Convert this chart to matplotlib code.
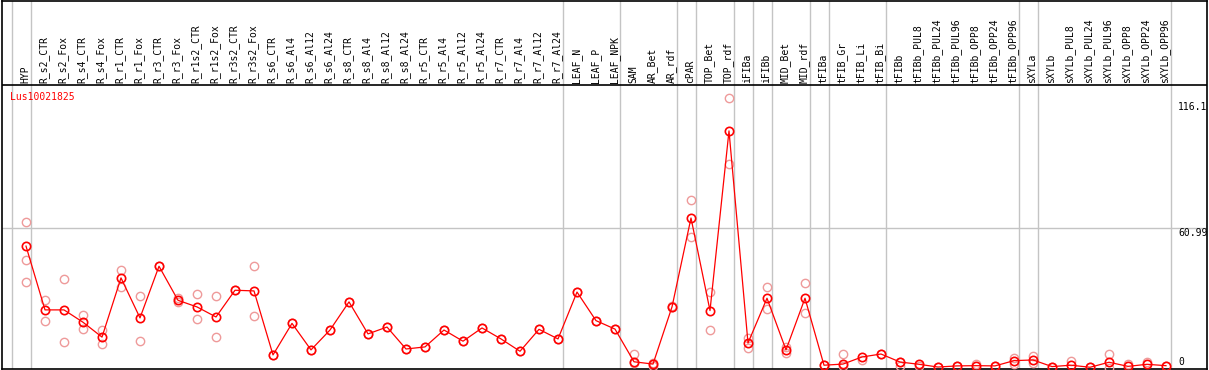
import matplotlib
matplotlib.use("Agg")
import matplotlib.pyplot as plt
import numpy as np

# sample labels, left to right
samples = ["HYP", "R_s2_CTR", "R_s2_Fox", "R_s4_CTR", "R_s4_Fox", "R_r1_CTR",
           "R_r1_Fox", "R_r3_CTR", "R_r3_Fox", "R_r1s2_CTR", "R_r1s2_Fox",
           "R_r3s2_CTR", "R_r3s2_Fox", "R_s6_CTR", "R_s6_Al4", "R_s6_Al12",
           "R_s6_Al24", "R_s8_CTR", "R_s8_Al4", "R_s8_Al12", "R_s8_Al24",
           "R_r5_CTR", "R_r5_Al4", "R_r5_Al12", "R_r5_Al24", "R_r7_CTR",
           "R_r7_Al4", "R_r7_Al12", "R_r7_Al24", "LEAF_N", "LEAF_P", "LEAF_NPK",
           "SAM", "AR_Bet", "AR_rdf", "cPAR", "TOP_Bet", "TOP_rdf", "iFIBa",
           "iFIBb", "MID_Bet", "MID_rdf", "tFIBa", "tFIB_Gr", "tFIB_Li",
           "tFIB_Bi", "tFIBb", "tFIBb_PUL8", "tFIBb_PUL24", "tFIBb_PUL96",
           "tFIBb_OPP8", "tFIBb_OPP24", "tFIBb_OPP96", "sXYLa", "sXYLb",
           "sXYLb_PUL8", "sXYLb_PUL24", "sXYLb_PUL96", "sXYLb_OPP8",
           "sXYLb_OPP24", "sXYLb_OPP96"]

# mean expression per sample
means = [53.1, 25.2, 25.2, 19.8, 13.3, 39.2, 21.7, 44.3, 29.4, 26.5, 22.1,
         33.8, 33.5, 5.5, 19.3, 7.7, 16.4, 28.7, 14.7, 17.7, 8.1, 9.0, 16.4,
         11.5, 17.3, 12.5, 7.1, 16.7, 12.5, 33.0, 20.5, 16.8, 2.5, 1.5, 26.5,
         65.4, 24.9, 103.5, 10.7, 30.3, 7.7, 30.3, 1.0, 1.5, 4.6, 5.9, 2.4,
         1.4, 0.2, 0.7, 0.8, 0.7, 3.0, 3.3, 0.4, 1.0, 0.1, 2.3, 0.5, 1.4, 0.8]

# individual replicates per sample
reps = [[63.5, 46.9, 37.4], [29.5, 20.3], [38.7, 11.0], [23.0, 16.8],
        [16.4, 10.1], [42.7, 35.4], [31.1, 11.5], [44.3], [30.3, 28.7],
        [32.0, 21.1], [31.1, 13.2], [33.8], [44.3, 22.5], [5.5], [19.3],
        [7.7], [16.4], [28.7], [14.7], [17.7], [8.1], [9.0], [16.4], [11.5],
        [17.3], [12.5], [7.1], [16.7], [12.5], [33.0], [20.5], [16.8],
        [5.9, 1.9], [1.9, 0.5], [26.5, 26.8], [73.3, 57.0], [33.2, 16.4],
        [117.8, 88.9], [12.8, 8.7], [35.1, 25.5], [9.1, 6.5], [37.0, 23.7],
        [1.0], [5.9, 0.8], [3.3], [5.9], [2.4, 0.5], [0.5], [0.2], [0.7],
        [1.5], [0.7], [4.0, 1.4], [5.0, 1.8], [0.4], [2.8], [0.1],
        [5.8, 0.0], [1.7], [2.5], [0.8]]

# group separators sit just right of these sample indices
separators = [-1, 0, 28, 31, 34, 35, 37, 38, 39, 41, 42, 45, 52, 53, 60]

gene = "Lus10021825"
y_labels = ["116.1", "60.99", "0"]
grid_value = 60.99

W, H = 1209, 370
fig = plt.figure(figsize=(W / 100, H / 100), dpi=100)
ax = fig.add_axes([1.5 / W, 1.5 / H, 1205 / W, 368 / H])

# pixel -> data helpers (y0 pixel for value 0, px per unit)
y0, k = 367.5, 2.286
def yv(py):
    return (y0 - py) / k
def xi(px):
    return (px - 26) / 19.0

ax.set_xlim(xi(1.5), xi(1206.5))
ax.set_ylim(yv(368.5), yv(0.5))
ax.set_xticks([])
ax.set_yticks([])
for s in ax.spines.values():
    s.set_color("black")
    s.set_linewidth(1.2)

mono = "DejaVu Sans Mono"
x = np.arange(len(samples))

for s in separators:
    ax.axvline(s + 0.25, color="#c4c4c4", lw=1.0, zorder=1)
ax.axhline(grid_value, color="#c4c4c4", lw=1.0, zorder=1)
ax.axhline(yv(85), color="black", lw=1.2, zorder=2)

for i, r in enumerate(reps):
    ax.plot([i] * len(r), r, "o", ms=6, mfc="none", mec="#ee9a9a",
            mew=1.0, zorder=3)

ax.plot(x, means, "-", color="#ff0000", lw=0.9, zorder=4)
ax.plot(x, means, "o", ms=6, mfc="none", mec="#ff0000", mew=1.2, zorder=5)

for i, name in enumerate(samples):
    ax.text(i - 0.05, yv(83), name, rotation=90, ha="center", va="bottom",
            fontsize=7, family=mono, color="black")

ax.text(xi(10), yv(97), gene, ha="left", va="center", fontsize=7,
        family=mono, color="#ff0000")

for lab, py in zip(y_labels, [106.7, 232.7, 361.7]):
    ax.text(xi(1178), yv(py), lab, ha="left", va="center", fontsize=7,
            family=mono, color="black")

fig.savefig("out.png", dpi=100)
